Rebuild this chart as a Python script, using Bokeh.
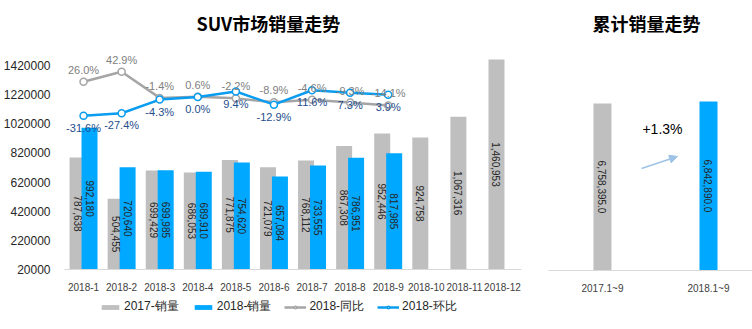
import math
from bokeh.plotting import figure
from bokeh.layouts import row, column
from bokeh.models import (ColumnDataSource, FactorRange, Range1d, FixedTicker, BasicTickFormatter,
                          Legend, LegendItem, Arrow, NormalHead, Label)
from bokeh.transform import dodge
from bokeh.core.properties import value
from bokeh.embed import file_html
from bokeh.resources import INLINE

# ---------------- data ----------------
months = ["2018-1", "2018-2", "2018-3", "2018-4", "2018-5", "2018-6",
          "2018-7", "2018-8", "2018-9", "2018-10", "2018-11", "2018-12"]
sales_2017 = [787638, 504455, 699429, 686053, 771875, 721079,
              768112, 867308, 952446, 924758, 1067316, 1460953]
months_2018 = months[:9]
sales_2018 = [992180, 720640, 699985, 689910, 754620, 657084,
              733555, 786951, 817985]
yoy_2018 = [26.0, 42.9, -1.4, 0.6, -2.2, -8.9, -4.6, -9.3, -14.1]
mom_2018 = [-31.6, -27.4, -4.3, 0.0, 9.4, -12.9, 11.6, 7.3, 3.9]
y_ticks = [20000, 220000, 420000, 620000, 820000, 1020000, 1220000, 1420000]
legend_labels = ["2017-销量", "2018-销量", "2018-同比", "2018-环比"]

cum_labels = ["2017.1~9", "2018.1~9"]
cum_values = [6758395.0, 6842890.0]
cum_change = "+1.3%"

FONT = "Liberation Sans"
CJK = "Noto Sans CJK SC"
GRAY_BAR = "#BFBFBF"
BLUE_BAR = "#00A8FF"
GRAY_LINE = "#A5A5A5"
BLUE_LINE = "#0A9CEF"
BASE = 20000

# ---------------- left chart ----------------
p = figure(width=540, height=293, x_range=FactorRange(*months),
           y_range=Range1d(BASE, 1590732), output_backend="svg",
           toolbar_location=None, min_border_left=63, min_border_right=19,
           min_border_top=40, min_border_bottom=23)
p.extra_y_ranges = {"pct": Range1d(-292, 95.8)}
p.xgrid.visible = False
p.ygrid.visible = False
p.outline_line_color = None

p.title.text = "SUV市场销量走势"
p.title.text_font = CJK
p.title.text_font_size = "18px"
p.title.text_font_style = "bold"
p.title.text_color = "#000000"
p.title.align = "left"
p.title.offset = 132

src17 = ColumnDataSource(dict(m=months, v=sales_2017,
                              mid=[(BASE + v) / 2 for v in sales_2017],
                              lab=[f"{v:,}" for v in sales_2017]))
src18 = ColumnDataSource(dict(m=months_2018, v=sales_2018,
                              mid=[(BASE + v) / 2 for v in sales_2018],
                              lab=[f"{v:,}" for v in sales_2018],
                              yoy=yoy_2018, mom=mom_2018,
                              yoy_lab=[f"{v:.1f}%" for v in yoy_2018],
                              mom_lab=[f"{v:.1f}%" for v in mom_2018]))

p.vbar(x=dodge("m", -0.157, range=p.x_range), top="v", bottom=BASE, width=0.42,
       source=src17, fill_color=GRAY_BAR, line_color=None)
p.vbar(x=dodge("m", 0.157, range=p.x_range), top="v", bottom=BASE, width=0.42,
       source=src18, fill_color=BLUE_BAR, line_color=None)

p.text(x=dodge("m", -0.157, range=p.x_range), y="mid", text="lab", source=src17,
       angle=-math.pi / 2, text_align="center", text_baseline="middle",
       text_font=value(FONT), text_font_size="10px", text_color="#262626")
p.text(x=dodge("m", 0.157, range=p.x_range), y="mid", text="lab", source=src18,
       angle=-math.pi / 2, text_align="center", text_baseline="middle",
       text_font=value(FONT), text_font_size="10px", text_color="#262626")

p.line(x="m", y="yoy", source=src18, y_range_name="pct",
       line_color=GRAY_LINE, line_width=2.5)
p.scatter(x="m", y="yoy", source=src18, y_range_name="pct", size=7,
          fill_color="white", line_color=GRAY_LINE, line_width=1.5)
p.line(x="m", y="mom", source=src18, y_range_name="pct",
       line_color=BLUE_LINE, line_width=2.5)
p.scatter(x="m", y="mom", source=src18, y_range_name="pct", size=7,
          fill_color="white", line_color=BLUE_LINE, line_width=1.5)

p.text(x="m", y="yoy", text="yoy_lab", source=src18, y_range_name="pct",
       text_align="center", text_baseline="bottom", y_offset=-6,
       text_font=value(FONT), text_font_size="11px", text_color="#808080")
p.text(x="m", y="mom", text="mom_lab", source=src18, y_range_name="pct",
       text_align="center", text_baseline="top", y_offset=6,
       text_font=value(FONT), text_font_size="11px", text_color="#1F4E8C")

p.yaxis.ticker = FixedTicker(ticks=y_ticks)
p.yaxis.formatter = BasicTickFormatter(use_scientific=False)
p.yaxis.axis_line_color = None
p.yaxis.major_tick_line_color = None
p.yaxis.minor_tick_line_color = None
p.yaxis.major_label_text_font = FONT
p.yaxis.major_label_text_font_size = "12px"
p.yaxis.major_label_text_color = "#262626"
p.yaxis.major_label_standoff = 8

p.xaxis.axis_line_color = "#D9D9D9"
p.xaxis.major_tick_line_color = None
p.xaxis.minor_tick_line_color = None
p.xaxis.major_label_text_font = FONT
p.xaxis.major_label_text_font_size = "10px"
p.xaxis.major_label_text_color = "#404040"
p.xaxis.major_label_standoff = 7

# ---------------- legend strip (below the left chart) ----------------
# legend-only figure: one hidden sample point (outside the visible range) per swatch
lf = figure(width=540, height=36, x_range=Range1d(0, 1), y_range=Range1d(0, 1),
            output_backend="svg", toolbar_location=None,
            min_border_left=0, min_border_right=0, min_border_top=0, min_border_bottom=0)
lf.axis.visible = False
lf.grid.visible = False
lf.outline_line_color = None
swatch = ColumnDataSource(dict(x=[-5], y=[-5]))
d17 = lf.vbar(x="x", top="y", bottom=-6, width=0.1, source=swatch, fill_color=GRAY_BAR, line_color=None)
d18 = lf.vbar(x="x", top="y", bottom=-6, width=0.1, source=swatch, fill_color=BLUE_BAR, line_color=None)
dlg = lf.line(x="x", y="y", source=swatch, line_color=GRAY_LINE, line_width=2.5)
dsg = lf.scatter(x="x", y="y", source=swatch, size=7, fill_color="white",
                 line_color=GRAY_LINE, line_width=1.5)
dlb = lf.line(x="x", y="y", source=swatch, line_color=BLUE_LINE, line_width=2.5)
dsb = lf.scatter(x="x", y="y", source=swatch, size=7, fill_color="white",
                 line_color=BLUE_LINE, line_width=1.5)

legend = Legend(items=[
    LegendItem(label=legend_labels[0], renderers=[d17]),
    LegendItem(label=legend_labels[1], renderers=[d18]),
    LegendItem(label=legend_labels[2], renderers=[dlg, dsg]),
    LegendItem(label=legend_labels[3], renderers=[dlb, dsb]),
], orientation="horizontal", location=(35, 14))
legend.glyph_width = 22
legend.glyph_height = 6
legend.label_text_font = FONT
legend.label_text_font_size = "12px"
legend.label_text_color = "#262626"
legend.label_standoff = 3
legend.spacing = 13
legend.padding = 2
legend.margin = 0
legend.border_line_color = None
legend.background_fill_alpha = 0
lf.add_layout(legend)

# ---------------- right chart ----------------
q = figure(width=212, height=329, x_range=Range1d(-0.509, 1.415),
           y_range=Range1d(0, 9307000), output_backend="svg",
           toolbar_location=None, min_border_left=8, min_border_right=0,
           min_border_top=40, min_border_bottom=59)
q.xgrid.visible = False
q.ygrid.visible = False
q.outline_line_color = None
q.yaxis.visible = False

q.title.text = "累计销量走势"
q.title.text_font = CJK
q.title.text_font_size = "18px"
q.title.text_font_style = "bold"
q.title.text_color = "#000000"
q.title.align = "left"
q.title.offset = 44

csrc = ColumnDataSource(dict(x=list(range(len(cum_labels))), v=cum_values,
                             mid=[v / 2 for v in cum_values],
                             lab=[f"{v:,.1f}" for v in cum_values],
                             c=[GRAY_BAR, BLUE_BAR]))
q.vbar(x="x", top="v", bottom=0, width=0.17, source=csrc, fill_color="c", line_color=None)
q.text(x="x", y="mid", text="lab", source=csrc, angle=-math.pi / 2,
       text_align="center", text_baseline="middle",
       text_font=value(FONT), text_font_size="10px", text_color="#262626")

q.add_layout(Label(x=0.566, y=5746000, text=cum_change, text_align="center",
                   text_baseline="middle", text_font=FONT, text_font_size="14px",
                   text_color="#000000"))
q.add_layout(Arrow(x_start=0.368, y_start=4128000, x_end=0.708, y_end=4613000,
                   line_color="#9DC3E6", line_width=1.5,
                   end=NormalHead(size=8, fill_color="#9DC3E6", line_color="#9DC3E6")))

q.xaxis.ticker = FixedTicker(ticks=list(range(len(cum_labels))))
q.xaxis.major_label_overrides = {i: s for i, s in enumerate(cum_labels)}
q.xaxis.axis_line_color = "#D9D9D9"
q.xaxis.major_tick_line_color = None
q.xaxis.minor_tick_line_color = None
q.xaxis.major_label_text_font = FONT
q.xaxis.major_label_text_font_size = "10px"
q.xaxis.major_label_text_color = "#404040"
q.xaxis.major_label_standoff = 6

layout = row(column(p, lf, spacing=0), q, spacing=0)
open("out.html", "w").write(file_html(layout, INLINE))
